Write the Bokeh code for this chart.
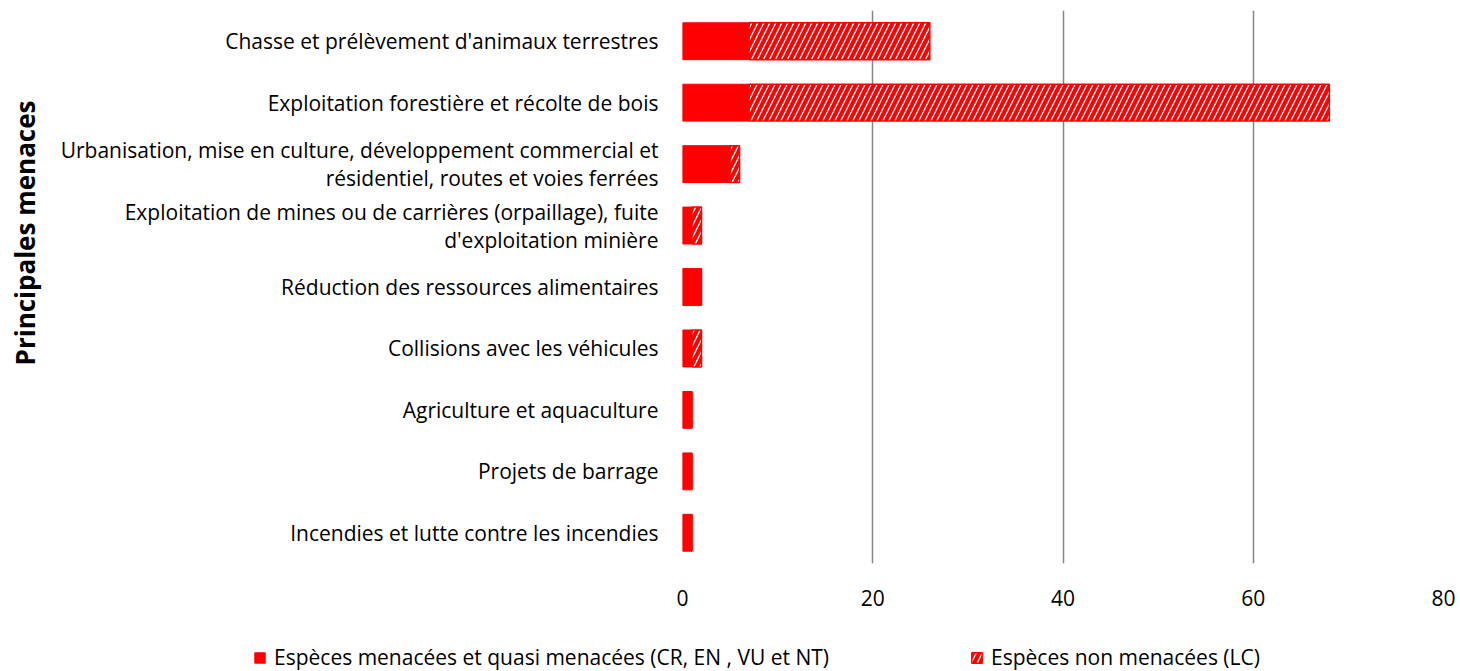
from bokeh.plotting import figure
from bokeh.models import Legend, LegendItem, ColumnDataSource, FixedTicker, Title
from bokeh.embed import file_html
from bokeh.resources import INLINE

categories = [
    "Chasse et prélèvement d'animaux terrestres",
    "Exploitation forestière et récolte de bois",
    "Urbanisation, mise en culture, développement commercial et\nrésidentiel, routes et voies ferrées",
    "Exploitation de mines ou de carrières (orpaillage), fuite\nd'exploitation minière",
    "Réduction des ressources alimentaires",
    "Collisions avec les véhicules",
    "Agriculture et aquaculture",
    "Projets de barrage",
    "Incendies et lutte contre les incendies",
]
threatened = [7, 7, 5, 1, 2, 1, 1, 1, 1]
non_threatened = [19, 61, 1, 1, 0, 1, 0, 0, 0]
x_ticks = [0, 20, 40, 60, 80]
axis_title = "Principales menaces"
series_names = ["Espèces menacées et quasi menacées (CR, EN , VU et NT)",
                "Espèces non menacées (LC)"]

FONT = "Open Sans"
RED = "#FF0000"
solid_style = dict(fill_color=RED, line_color=RED, line_width=1)
hatch_style = dict(fill_color="white", line_color=RED, line_width=1.5,
                   hatch_pattern="/", hatch_color=RED, hatch_scale=12, hatch_weight=4)

src = ColumnDataSource(dict(
    cat=categories,
    t=threatened,
    lc=non_threatened,
    total=[a + b for a, b in zip(threatened, non_threatened)],
))

p = figure(y_range=list(reversed(categories)), x_range=(0, 80),
           frame_width=761, frame_height=553,
           output_backend="svg", toolbar_location=None,
           min_border_top=10, min_border_right=15, min_border_bottom=55,
           min_border_left=682)
p.outline_line_color = None

r1 = p.hbar(y="cat", left=0, right="t", height=0.6, source=src, **solid_style)
r2 = p.hbar(y="cat", left="t", right="total", height=0.6, source=src, **hatch_style)

p.xaxis.ticker = FixedTicker(ticks=x_ticks)
p.xaxis.axis_line_color = None
p.xaxis.major_tick_line_color = None
p.xaxis.minor_tick_line_color = None
p.xaxis.major_label_text_font = FONT
p.xaxis.major_label_text_font_size = "21px"
p.xaxis.major_label_text_color = "#000000"
p.xaxis.major_label_standoff = 20

p.yaxis.axis_line_color = None
p.yaxis.major_tick_line_color = None
p.yaxis.minor_tick_line_color = None
p.yaxis.major_label_text_font = FONT
p.yaxis.major_label_text_font_size = "21px"
p.yaxis.major_label_text_line_height = 1.0
p.yaxis.major_label_text_color = "#000000"
p.yaxis.major_label_standoff = 18

# small spacer between the category labels and the vertical title
p.add_layout(Title(text=" ", text_font_size="1px", standoff=9), "left")
p.add_layout(Title(text=axis_title, align="right", offset=90,
                   text_font=FONT, text_font_size="26px", text_font_style="bold",
                   text_color="#000000", standoff=6), "left")

p.xgrid.grid_line_color = "#868686"
p.xgrid.grid_line_width = 1.5
p.ygrid.grid_line_color = None

# legend strip below the chart (separate root so frames are not aligned)
lg = figure(width=1458, height=53, output_backend="svg", toolbar_location=None,
            min_border=0, x_range=(0, 1), y_range=(0, 1))
lg.axis.visible = False
lg.grid.visible = False
lg.outline_line_color = None
dummy = ColumnDataSource(dict(y=[0.5], l=[0], r=[0]))
d1 = lg.hbar(y="y", left="l", right="r", height=0, source=dummy, **solid_style)
d2 = lg.hbar(y="y", left="l", right="r", height=0, source=dummy, **hatch_style)

common = dict(orientation="horizontal", label_text_font=FONT,
              label_text_font_size="21px", label_text_color="#000000",
              glyph_width=13, glyph_height=13,
              border_line_color=None, background_fill_alpha=0, padding=0,
              margin=0, label_standoff=8, label_height=20)
leg1 = Legend(items=[LegendItem(label=series_names[0], renderers=[d1])],
              location=(253, 0), **common)
leg2 = Legend(items=[LegendItem(label=series_names[1], renderers=[d2])],
              location=(970, 0), **common)
lg.add_layout(leg1)
lg.add_layout(leg2)

open("out.html", "w").write(file_html([p, lg], INLINE))
